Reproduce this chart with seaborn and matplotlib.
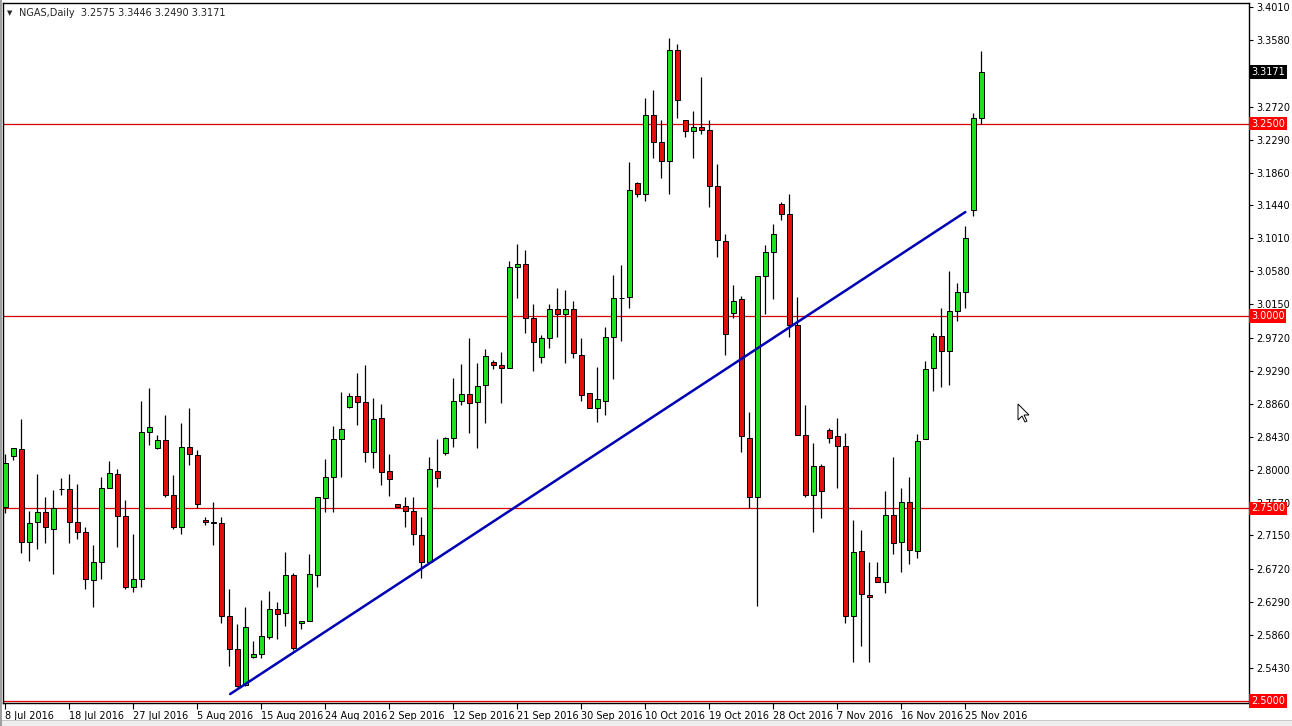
import pandas as pd
import matplotlib
matplotlib.use("Agg")
import matplotlib.pyplot as plt
import seaborn as sns
from matplotlib.patches import Polygon, Rectangle

# daily NGAS bars, one per trading day (Sunday bars included)
opens = [2.752, 2.818, 2.827, 2.706, 2.732, 2.745, 2.724, 2.775, 2.775, 2.733,
         2.719, 2.657, 2.681, 2.777, 2.795, 2.740, 2.648, 2.659, 2.849, 2.828,
         2.839, 2.768, 2.726, 2.830, 2.820, 2.735, 2.732, 2.731, 2.610, 2.567,
         2.521, 2.557, 2.561, 2.583, 2.619, 2.614, 2.664, 2.601, 2.604, 2.663,
         2.763, 2.791, 2.840, 2.882, 2.896, 2.888, 2.824, 2.867, 2.799, 2.756,
         2.753, 2.747, 2.716, 2.680, 2.799, 2.822, 2.841, 2.889, 2.899, 2.888,
         2.910, 2.940, 2.937, 2.933, 3.063, 3.067, 2.998, 2.947, 2.971, 3.009,
         3.002, 3.009, 2.950, 2.900, 2.880, 2.890, 2.973, 3.024, 3.025, 3.173,
         3.159, 3.261, 3.226, 3.201, 3.345, 3.255, 3.240, 3.246, 3.241, 3.169,
         3.098, 3.004, 3.022, 2.842, 2.765, 3.052, 3.083, 3.146, 3.132, 2.988,
         2.845, 2.767, 2.805, 2.852, 2.844, 2.831, 2.610, 2.695, 2.638, 2.661,
         2.654, 2.741, 2.706, 2.758, 2.695, 2.840, 2.932, 2.974, 2.955, 3.006,
         3.031, 3.138, 3.2575]
highs = [2.821, 2.829, 2.866, 2.747, 2.795, 2.765, 2.774, 2.789, 2.795, 2.782,
         2.726, 2.703, 2.791, 2.812, 2.801, 2.761, 2.717, 2.889, 2.906, 2.846,
         2.871, 2.794, 2.861, 2.881, 2.826, 2.739, 2.758, 2.739, 2.645, 2.600,
         2.622, 2.578, 2.631, 2.643, 2.629, 2.694, 2.666, 2.604, 2.691, 2.765,
         2.814, 2.857, 2.901, 2.900, 2.926, 2.937, 2.894, 2.886, 2.821, 2.756,
         2.765, 2.765, 2.739, 2.817, 2.840, 2.843, 2.919, 2.938, 2.972, 2.939,
         2.957, 2.943, 2.953, 3.071, 3.094, 3.086, 3.016, 2.975, 3.016, 3.037,
         3.034, 3.019, 2.972, 2.900, 2.934, 2.986, 3.053, 3.066, 3.200, 3.174,
         3.283, 3.294, 3.255, 3.361, 3.353, 3.255, 3.266, 3.311, 3.255, 3.197,
         3.107, 3.040, 3.026, 2.875, 3.052, 3.092, 3.120, 3.148, 3.158, 3.025,
         2.884, 2.835, 2.808, 2.855, 2.868, 2.848, 2.735, 2.722, 2.681, 2.680,
         2.773, 2.817, 2.776, 2.791, 2.847, 2.942, 2.978, 3.011, 3.058, 3.043,
         3.117, 3.264, 3.3446]
lows = [2.744, 2.813, 2.692, 2.682, 2.698, 2.705, 2.665, 2.768, 2.705, 2.710,
        2.645, 2.622, 2.658, 2.776, 2.700, 2.646, 2.641, 2.648, 2.833, 2.827,
        2.765, 2.724, 2.717, 2.806, 2.751, 2.728, 2.702, 2.601, 2.546, 2.518,
        2.520, 2.556, 2.556, 2.580, 2.581, 2.598, 2.566, 2.594, 2.604, 2.648,
        2.745, 2.746, 2.791, 2.880, 2.858, 2.811, 2.803, 2.781, 2.766, 2.752,
        2.726, 2.703, 2.660, 2.680, 2.778, 2.819, 2.830, 2.884, 2.848, 2.829,
        2.861, 2.931, 2.887, 2.933, 3.024, 2.978, 2.928, 2.939, 2.958, 2.973,
        2.939, 2.946, 2.889, 2.880, 2.862, 2.872, 2.918, 2.968, 3.010, 3.154,
        3.149, 3.205, 3.179, 3.158, 3.257, 3.232, 3.205, 3.236, 3.141, 3.076,
        2.950, 2.998, 2.824, 2.751, 2.624, 3.002, 3.022, 3.125, 2.973, 2.846,
        2.765, 2.720, 2.738, 2.835, 2.776, 2.601, 2.550, 2.571, 2.551, 2.654,
        2.640, 2.691, 2.668, 2.678, 2.686, 2.840, 2.902, 2.908, 2.910, 2.994,
        3.011, 3.130, 3.2490]
closes = [2.809, 2.828, 2.706, 2.731, 2.745, 2.726, 2.750, 2.775, 2.733, 2.719,
          2.658, 2.681, 2.776, 2.796, 2.740, 2.648, 2.659, 2.849, 2.856, 2.839,
          2.768, 2.726, 2.830, 2.821, 2.756, 2.732, 2.731, 2.610, 2.567, 2.520,
          2.596, 2.561, 2.584, 2.619, 2.613, 2.664, 2.569, 2.604, 2.665, 2.765,
          2.791, 2.840, 2.853, 2.896, 2.888, 2.823, 2.866, 2.798, 2.788, 2.752,
          2.747, 2.717, 2.680, 2.801, 2.789, 2.842, 2.890, 2.899, 2.887, 2.909,
          2.948, 2.937, 2.932, 3.063, 3.067, 2.998, 2.966, 2.971, 3.009, 3.002,
          3.009, 2.952, 2.898, 2.880, 2.892, 2.973, 3.023, 3.024, 3.164, 3.159,
          3.261, 3.226, 3.201, 3.345, 3.281, 3.240, 3.246, 3.242, 3.169, 3.099,
          2.977, 3.019, 2.844, 2.765, 3.052, 3.083, 3.107, 3.133, 2.988, 2.846,
          2.768, 2.805, 2.773, 2.842, 2.831, 2.610, 2.693, 2.639, 2.635, 2.654,
          2.741, 2.705, 2.758, 2.696, 2.838, 2.931, 2.974, 2.954, 3.006, 3.031,
          3.101, 3.257, 3.3171]

date_labels = ["8 Jul 2016", "18 Jul 2016", "27 Jul 2016", "5 Aug 2016", "15 Aug 2016",
               "24 Aug 2016", "2 Sep 2016", "12 Sep 2016", "21 Sep 2016", "30 Sep 2016",
               "10 Oct 2016", "19 Oct 2016", "28 Oct 2016", "7 Nov 2016", "16 Nov 2016",
               "25 Nov 2016"]
bars_per_label = 8

price_ticks = [3.4010, 3.3580, 3.2720, 3.2290, 3.1860, 3.1440, 3.1010, 3.0580, 3.0150,
               2.9720, 2.9290, 2.8860, 2.8430, 2.8000, 2.7570, 2.7150, 2.6720, 2.6290,
               2.5860, 2.5430]
levels = [3.25, 3.00, 2.75, 2.50]

# trend line drawn on the chart (bar index, price)
trend_bars = [28.1, 120.0]
trend_prices = [2.509, 3.135]

df = pd.DataFrame({"open": opens, "high": highs, "low": lows, "close": closes})
df["bar"] = range(len(df))
df["up"] = df["close"] >= df["open"]

sns.set_style("white")
plt.rcParams["font.family"] = ["DejaVu Sans"]

W, H = 1292, 726
fig = plt.figure(figsize=(W / 100, H / 100), dpi=100)
ax = fig.add_axes([3 / W, 23 / H, 1246 / W, 700 / H])

for lvl in levels:
    ax.axhline(lvl, color="#dd0000", lw=0.9, zorder=1)

# wicks then bodies
ax.vlines(df["bar"], df["low"], df["high"], color="black", lw=0.9, zorder=2)
body_lo = df[["open", "close"]].min(axis=1)
body_h = (df["close"] - df["open"]).abs()
colors = ["#1ee01e" if u else "#e01010" for u in df["up"]]
ax.bar(df["bar"], body_h, bottom=body_lo, width=0.62, color=colors,
       edgecolor="black", linewidth=0.7, zorder=3)

sns.lineplot(x=trend_bars, y=trend_prices, ax=ax, color="#0000b4", lw=1.8, zorder=4)

ax.set_xlim(-0.29, 155.46)
ax.set_ylim(2.4974, 3.4065)

ax.yaxis.tick_right()
ax.set_yticks(price_ticks)
ax.set_yticklabels([f"{p:.4f}" for p in price_ticks], fontsize=7)
xt = list(range(0, len(df), bars_per_label))
ax.set_xticks(xt)
ax.set_xticklabels(date_labels, fontsize=7, ha="left")
ax.tick_params(axis="y", length=3, width=0.8, pad=2, colors="black", right=True)
ax.tick_params(axis="x", length=4, width=0.8, pad=2, colors="black", bottom=True)
for s in ax.spines.values():
    s.set_color("black")
    s.set_linewidth(1.0)

ytr = ax.get_yaxis_transform()
for lvl in levels:
    ax.text(1.0015, lvl, f"{lvl:.4f}", transform=ytr, fontsize=7, color="white",
            va="center", ha="left", clip_on=False, zorder=10,
            bbox=dict(boxstyle="square,pad=0.2", fc="#ff0000", ec="none"))
last = closes[-1]
ax.text(1.0015, last, f"{last:.4f}", transform=ytr, fontsize=7, color="white",
        va="center", ha="left", clip_on=False, zorder=10,
        bbox=dict(boxstyle="square,pad=0.2", fc="black", ec="none"))

header = f"NGAS,Daily  {opens[-1]:.4f} {highs[-1]:.4f} {lows[-1]:.4f} {closes[-1]:.4f}"
fig.text(19 / W, 1 - 13 / H, header, fontsize=7, va="center", ha="left")
fig.text(7 / W, 1 - 13 / H, "\u25bc", fontsize=5, va="center", ha="left")

# window frame: grey strip along the bottom and thin grey left edge
fig.add_artist(Rectangle((0, 0), 1, 5 / H, transform=fig.transFigure,
                         fc="#eeeeee", ec="none"))
fig.add_artist(Rectangle((0, 5 / H), 1, 1 / H, transform=fig.transFigure,
                         fc="#c8c8c8", ec="none"))
fig.add_artist(Rectangle((0, 0), 1.5 / W, 1, transform=fig.transFigure,
                         fc="#a0a0a0", ec="none"))

# mouse pointer left on the screenshot
cx, cy = 1018, 404
pts = [(0, 0), (0, 16), (4, 12), (7, 18), (9, 17), (6, 11), (11, 11)]
fig.add_artist(Polygon([((cx + px) / W, 1 - (cy + py) / H) for px, py in pts],
                       closed=True, fc="white", ec="black", lw=0.7,
                       transform=fig.transFigure))

fig.savefig("out.png", dpi=100)
